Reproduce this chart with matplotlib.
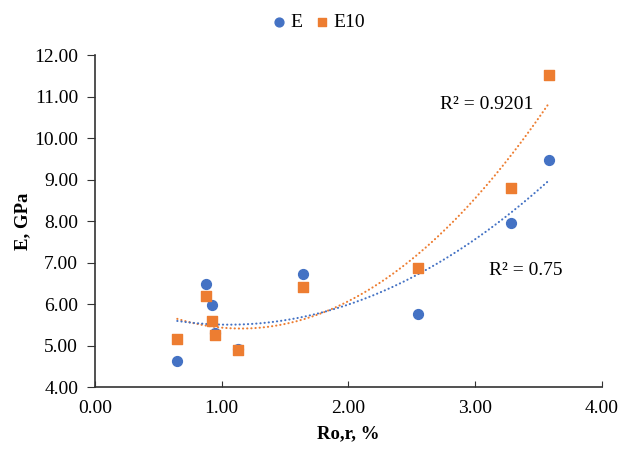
import matplotlib.pyplot as plt
import numpy as np

plt.rcParams['font.family'] = ['Liberation Serif', 'DejaVu Serif']

ro = [0.65, 0.88, 0.92, 0.95, 1.13, 1.64, 2.55, 3.28, 3.58]
e = [4.63, 6.49, 5.98, 5.30, 4.92, 6.72, 5.76, 7.96, 9.46]
e10 = [5.15, 6.20, 5.59, 5.25, 4.89, 6.42, 6.86, 8.79, 11.53]
r2_labels = ['R\u00b2 = 0.75', 'R\u00b2 = 0.9201']

blue = '#4472C4'
orange = '#ED7D31'

fig = plt.figure(figsize=(6.2, 4.49), dpi=100)
ax = fig.add_axes([0.153, 0.138, 0.818, 0.7394])

ax.scatter(ro, e, s=50, marker='o', color=blue, label='E', zorder=3)
ax.scatter(ro, e10, s=50, marker='s', color=orange, label='E10', zorder=3)

# second order trendlines, as in Excel
xs = np.linspace(min(ro), max(ro), 200)
for ys, c in [(e10, orange), (e, blue)]:
    p = np.polyfit(ro, ys, 2)
    ax.plot(xs, np.polyval(p, xs), color=c, lw=1.5, ls=(0, (0.1, 1.9)),
            dash_capstyle='round', zorder=2)

ax.text(3.11, 6.82, r2_labels[0], fontsize=14, va='center', ha='left')
ax.text(2.72, 10.8, r2_labels[1], fontsize=14, va='center', ha='left')

ax.set_xlim(0, 4)
ax.set_ylim(4, 12)
ax.set_xticks(np.arange(0, 4.01, 1))
ax.set_yticks(np.arange(4, 12.01, 1))
ax.xaxis.set_major_formatter(plt.FormatStrFormatter('%.2f'))
ax.yaxis.set_major_formatter(plt.FormatStrFormatter('%.2f'))
ax.tick_params(axis='x', direction='in', length=4, labelsize=14, pad=9, color='#333333')
ax.tick_params(axis='y', direction='out', length=6, labelsize=14, pad=6, color='#333333')
for s in ['top', 'right']:
    ax.spines[s].set_visible(False)
for s in ['left', 'bottom']:
    ax.spines[s].set_color('#333333')
    ax.spines[s].set_linewidth(1.2)

ax.set_xlabel('Ro,r, %', fontsize=13.5, fontweight='bold')
ax.set_ylabel('E, GPa', fontsize=13.5, fontweight='bold')
ax.xaxis.set_label_coords(0.5, -0.115)
ax.yaxis.set_label_coords(-0.125, 0.5)

fig.legend(loc='center', bbox_to_anchor=(0.51, 0.95), ncol=2, frameon=False,
           fontsize=14, handletextpad=0.0, columnspacing=0.4, handlelength=1.2,
           markerscale=0.9)

fig.savefig('out.png', dpi=100)
